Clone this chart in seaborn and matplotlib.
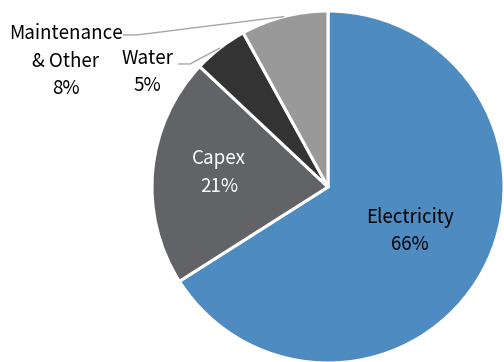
import matplotlib
matplotlib.use("Agg")
import matplotlib.pyplot as plt
import seaborn as sns
import numpy as np

# Cost breakdown
categories = ["Electricity", "Capex", "Water", "Maintenance\n& Other"]
shares = [66, 21, 5, 8]
colors = ["#4e8bc0", "#626367", "#333333", "#999999"]
label_colors = ["black", "white", "black", "black"]

sns.set_theme(style="white")
plt.rcParams["font.family"] = ["Noto Sans CJK JP", "DejaVu Sans"]

fig = plt.figure(figsize=(5.04, 3.62), dpi=100)
ax = fig.add_axes([0, 0, 1, 1])

wedges, _ = ax.pie(
    shares,
    colors=colors,
    startangle=90,
    counterclock=False,
    radius=1.0,
    wedgeprops=dict(edgecolor="white", linewidth=2.2),
)
ax.set_aspect("auto")
ax.set_xlim(-1.8636, 1.0)
ax.set_ylim(-0.9943, 1.0625)
ax.axis("off")

fs = 13.5
lsp = 1.4

# label anchor points (data units, pie radius = 1)
label_xy = {0: (0.466, -0.25), 1: (-0.619, 0.082),
            2: (-1.026, 0.652), 3: (-1.489, 0.715)}
# leader lines for the small slices: elbow and end of the horizontal tail
leaders = {2: ((-0.784, 0.699), (-0.852, 0.699)),
           3: ((-1.085, 0.864), (-1.165, 0.864))}

for i, (x, y) in label_xy.items():
    ax.text(x, y, f"{categories[i]}\n{shares[i]}%",
            ha="center", va="center", color=label_colors[i],
            fontsize=fs, linespacing=lsp)

for i, (elbow, end) in leaders.items():
    w = wedges[i]
    mid = np.deg2rad((w.theta1 + w.theta2) / 2)
    px, py = np.cos(mid), np.sin(mid)
    ax.plot([px, elbow[0], end[0]], [py, elbow[1], end[1]],
            color="#a6a6a6", lw=1.0, solid_capstyle="butt")

fig.savefig("out.png", dpi=100)
